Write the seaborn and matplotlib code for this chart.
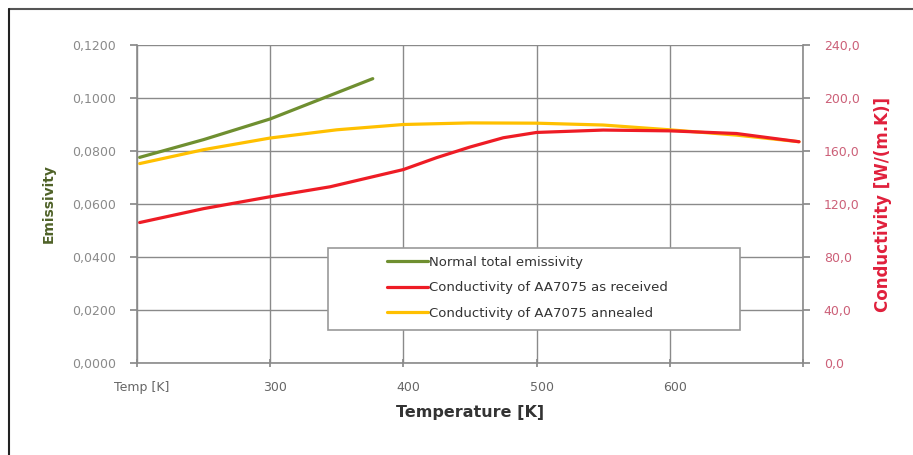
import matplotlib
matplotlib.use("Agg")
import matplotlib.pyplot as plt
import matplotlib.transforms as mtrans
import seaborn as sns
import pandas as pd
from matplotlib.patches import Rectangle
from matplotlib.lines import Line2D
from matplotlib.ticker import FuncFormatter

# ---- data ----
emis_T = [202, 250, 300, 335, 377]
emis_val = [0.0776, 0.0843, 0.0921, 0.0990, 0.1073]

recv_T = [202, 250, 300, 345, 400, 425, 450, 475, 500, 550, 600, 650, 697]
recv_val = [106.0, 116.5, 125.5, 133.0, 146.0, 155.0, 163.0, 170.0, 174.0, 175.8, 175.2, 173.2, 167.0]

ann_T = [202, 250, 300, 350, 400, 450, 500, 550, 600, 650, 697]
ann_val = [150.5, 161.0, 169.8, 176.0, 180.0, 181.2, 181.0, 179.6, 176.0, 172.0, 167.0]

x_ticks = [200, 300, 400, 500, 600, 700]
x_ticklabels = ["Temp [K]", "300", "400", "500", "600", ""]
left_ticks = [0.0, 0.02, 0.04, 0.06, 0.08, 0.10, 0.12]
right_ticks = [0, 40, 80, 120, 160, 200, 240]

labels = ["Normal total emissivity",
          "Conductivity of AA7075 as received",
          "Conductivity of AA7075 annealed"]

GREEN = "#6f8f30"
RED = "#ee1c25"
YELLOW = "#ffc000"
GRID = "#8a8a8a"
TICKC = "#8a8a8a"

sns.set_theme(style="white")
plt.rcParams["font.family"] = ["DejaVu Sans"]

fig = plt.figure(figsize=(9.13, 4.55), dpi=100)
ax = fig.add_axes([137/913, 1-363/455, (803-137)/913, (363-45)/455])
ax2 = ax.twinx()

df_e = pd.DataFrame({"T": emis_T, "v": emis_val})
df_r = pd.DataFrame({"T": recv_T, "v": recv_val})
df_a = pd.DataFrame({"T": ann_T, "v": ann_val})

sns.lineplot(data=df_e, x="T", y="v", ax=ax, color=GREEN, linewidth=2.3, zorder=3)
sns.lineplot(data=df_a, x="T", y="v", ax=ax2, color=YELLOW, linewidth=2.3, zorder=3)
sns.lineplot(data=df_r, x="T", y="v", ax=ax2, color=RED, linewidth=2.3, zorder=4)

ax.set_xlim(200, 700)
ax.set_ylim(0, 0.12)
ax2.set_ylim(0, 240)

ax.set_xticks(x_ticks)
ax.set_xticklabels(x_ticklabels)
ax.set_yticks(left_ticks)
ax.yaxis.set_major_formatter(FuncFormatter(lambda v, p: f"{v:.4f}".replace(".", ",")))
ax2.set_yticks(right_ticks)
ax2.yaxis.set_major_formatter(FuncFormatter(lambda v, p: f"{v:.1f}".replace(".", ",")))

ax.grid(True, color=GRID, linewidth=1.0)
ax.set_axisbelow(True)
ax2.grid(False)

for a in (ax, ax2):
    for s in a.spines.values():
        s.set_visible(False)
ax.spines["left"].set_visible(True)
ax.spines["bottom"].set_visible(True)
ax2.spines["right"].set_visible(True)
for s in (ax.spines["left"], ax.spines["bottom"], ax2.spines["right"]):
    s.set_color(GRID)
    s.set_linewidth(1.2)

ax.tick_params(axis="y", left=True, direction="out", length=5, color=GRID,
               labelsize=9, labelcolor=TICKC, pad=10)
ax.tick_params(axis="x", bottom=True, direction="inout", length=6, color=GRID,
               labelsize=9, labelcolor="#666666", pad=10)
ax2.tick_params(axis="y", right=True, direction="out", length=5, color=GRID,
                labelsize=9, labelcolor="#cc6078", pad=10)

shift = mtrans.ScaledTranslation(5/100, 0, fig.dpi_scale_trans)
for lab in ax.get_xticklabels():
    lab.set_transform(lab.get_transform() + shift)

ax.set_xlabel("Temperature [K]", fontsize=11.5, fontweight="bold", color="#333333", labelpad=8)
ax.set_ylabel("Emissivity", fontsize=10, fontweight="bold", color="#4f6228", labelpad=12)
ax2.set_ylabel("Conductivity [W/(m.K)]", fontsize=12, fontweight="bold", color="#e0203c", labelpad=10)

# legend
handles = [Line2D([], [], color=GREEN, lw=2.3),
           Line2D([], [], color=RED, lw=2.3),
           Line2D([], [], color=YELLOW, lw=2.3)]
fig.add_artist(Rectangle((328/913, 1-330/455), (740-328)/913, (330-248)/455,
                         transform=fig.transFigure, facecolor="white",
                         edgecolor="#999999", linewidth=1.2, zorder=5))
leg = fig.legend(handles, labels, loc="upper left",
                 bbox_to_anchor=(387/913, 1-256/455), frameon=False,
                 fontsize=9.5, handlelength=3.1, handletextpad=0.05,
                 labelspacing=0.93, borderaxespad=0, borderpad=0)
leg.set_zorder(6)
for t in leg.get_texts():
    t.set_color("#333333")

# outer frame lines (top and left)
fig.add_artist(Line2D([9/913, 1], [1-9/455, 1-9/455], transform=fig.transFigure,
                      color="#555555", lw=1.5))
fig.add_artist(Line2D([9/913, 9/913], [0, 1-9/455], transform=fig.transFigure,
                      color="#222222", lw=1.5))

fig.savefig("out.png", dpi=100, facecolor="white")
